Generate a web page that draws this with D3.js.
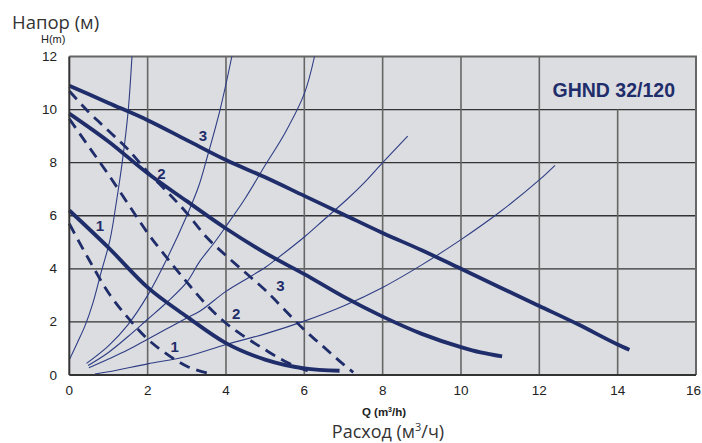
<!DOCTYPE html>
<html><head><meta charset="utf-8">
<script src="https://cdn.jsdelivr.net/npm/d3@7"></script>
<style>html,body{margin:0;padding:0;background:#fff;}svg{display:block;}</style>
</head><body>
<svg id="chart" width="702" height="443"></svg>
<script>
// ---- data ----
const xTicks = [0, 2, 4, 6, 8, 10, 12, 14, 16];
const yTicks = [0, 2, 4, 6, 8, 10, 12];

// pump curves (solid: max speed settings 1,2,3)
const solid1 = [[0,6.2],[1,4.8],[2,3.3],[3,2.2],[4,1.2],[5,0.58],[6,0.25],[6.9,0.16]];
const solid2 = [[0,9.85],[1,8.8],[2,7.6],[3,6.55],[4,5.52],[5,4.6],[6,3.8],[7,2.95],[8,2.2],[9,1.55],[10,1.05],[10.5,0.85],[11.05,0.7]];
const solid3 = [[0,10.9],[1,10.25],[2,9.6],[3,8.85],[4,8.1],[5,7.45],[6,6.75],[7,6.05],[8,5.35],[9,4.7],[10,4.0],[11,3.3],[12,2.6],[13,1.9],[14,1.15],[14.3,0.95]];

// dashed curves
const dashed1 = [[0,5.7],[0.5,4.35],[1,3.1],[1.5,2.15],[2,1.35],[2.5,0.78],[3,0.33],[3.6,0.05]];
const dashed2 = [[0,9.65],[0.5,8.6],[1,7.55],[1.5,6.45],[2,5.35],[2.5,4.4],[3,3.5],[3.5,2.65],[4,1.95],[4.5,1.42],[5,0.95],[5.5,0.52],[6,0.2],[6.25,0.08]];
const dashed3 = [[0,10.7],[0.5,9.9],[1,9.2],[1.5,8.5],[2,7.65],[2.5,6.9],[3,6.1],[3.5,5.2],[4,4.5],[4.5,3.85],[5,3.2],[5.5,2.45],[6,1.7],[6.5,1.05],[7,0.4],[7.25,0.1]];

// thin system curves
const sysA = [[0,0.57],[0.2,1.2],[0.4,1.85],[0.6,2.7],[0.8,3.8],[1.04,5.1],[1.2,6.5],[1.35,8.0],[1.5,9.9],[1.6,12]];
const sysB = [[0.44,0.44],[1,1.1],[1.5,1.9],[2,3.0],[2.5,4.4],[3,6.0],[3.3,7.1],[3.5,8.1],[3.85,10],[4.15,12]];
const sysC = [[0.48,0.36],[1,0.85],[1.5,1.45],[2,2.1],[2.5,2.75],[3,3.5],[3.33,4.28],[3.71,5.0],[4,5.6],[4.48,6.63],[5,7.9],[5.5,9.1],[6,10.6],[6.26,12]];
const sysD = [[0.5,0.27],[1,0.6],[1.5,0.95],[2,1.35],[2.5,1.75],[3,2.15],[3.33,2.4],[4,3.15],[4.5,3.6],[5,4.05],[5.28,4.36],[6,5.2],[6.5,5.85],[7.1,6.63],[7.5,7.2],[8,8.0],[8.64,9.0]];
const sysE = [[0.65,0.04],[1,0.12],[2,0.42],[3,0.7],[4,1.15],[5,1.55],[6,2.03],[7,2.6],[8,3.3],[9,4.15],[10,5.1],[11,6.15],[12,7.35],[12.4,7.9]];

const solidLabels = [["1",0.78,5.65],["2",2.35,7.6],["3",3.41,9.04]];
const dashedLabels = [["1",2.69,1.07],["2",4.26,2.32],["3",5.39,3.39]];

const modelName = "GHND 32/120";
const yTitleRu = "Напор (м)";
const yTitleEn = "H(m)";

// ---- chart ----
const svg = d3.select("#chart");
const x = d3.scaleLinear().domain([0,16]).range([69.3,696]);
const y = d3.scaleLinear().domain([0,12]).range([375,56.5]);
const navy = "#1f2d6b";

svg.append("rect").attr("x",x(0)).attr("y",y(12)).attr("width",x(16)-x(0)).attr("height",y(0)-y(12)).attr("fill","#dcdde0");

// horizontal grid
svg.append("g").selectAll("line").data(yTicks.filter(d=>d>0&&d<12)).join("line")
  .attr("x1",x(0)).attr("x2",x(16)).attr("y1",d=>y(d)).attr("y2",d=>y(d))
  .attr("stroke","#333").attr("stroke-width",1.3);
// vertical grid (x=14 stops at H=10 because of the model label)
svg.append("g").selectAll("line").data(xTicks.filter(d=>d>0&&d<16)).join("line")
  .attr("x1",d=>x(d)).attr("x2",d=>x(d)).attr("y1",y(0)).attr("y2",d=>d===14?y(10):y(12))
  .attr("stroke","#666").attr("stroke-width",1.6);

// border top/right
svg.append("path").attr("d",`M${x(0)},${y(12)}H${x(16)}V${y(0)}`).attr("fill","none").attr("stroke","#666").attr("stroke-width",2);

const line = d3.line().x(d=>x(d[0])).y(d=>y(d[1])).curve(d3.curveMonotoneX);
const lineSys = d3.line().x(d=>x(d[0])).y(d=>y(d[1])).curve(d3.curveCatmullRom);

const plot = svg.append("g");
[sysA,sysB,sysC,sysD,sysE].forEach(s=>{
  plot.append("path").attr("d",lineSys(s)).attr("fill","none").attr("stroke","#2e3d85").attr("stroke-width",1.1);
});
[dashed1,dashed2,dashed3].forEach(s=>{
  plot.append("path").attr("d",line(s)).attr("fill","none").attr("stroke",navy).attr("stroke-width",2.8).attr("stroke-dasharray","11,7");
});
[solid1,solid2,solid3].forEach(s=>{
  plot.append("path").attr("d",line(s)).attr("fill","none").attr("stroke",navy).attr("stroke-width",3.8).attr("stroke-linecap","butt");
});

svg.append("g").selectAll("text").data(solidLabels.concat(dashedLabels)).join("text")
  .attr("x",d=>x(d[1])).attr("y",d=>y(d[2])).attr("text-anchor","middle").attr("dominant-baseline","central")
  .attr("font-family","Liberation Sans, Arial, sans-serif").attr("font-weight","bold").attr("font-size",15)
  .attr("fill",navy).text(d=>d[0]);

svg.append("text").attr("x",x(13.9)).attr("y",y(10.75)).attr("text-anchor","middle").attr("dominant-baseline","central")
  .attr("font-family","Liberation Sans, Arial, sans-serif").attr("font-weight","bold").attr("font-size",19.5)
  .attr("fill",navy).text(modelName);

// axes lines
svg.append("line").attr("x1",x(0)).attr("x2",x(0)).attr("y1",y(12)).attr("y2",y(0)).attr("stroke","#333").attr("stroke-width",2);
svg.append("line").attr("x1",x(0)).attr("x2",x(16)).attr("y1",y(0)).attr("y2",y(0)).attr("stroke","#333").attr("stroke-width",2.2);

// tick labels
svg.append("g").selectAll("text").data(yTicks).join("text")
  .attr("x",57).attr("y",d=>y(d)).attr("text-anchor","end").attr("dominant-baseline","central")
  .attr("font-family","Liberation Sans, Arial, sans-serif").attr("font-size",13.5).attr("fill","#222").text(d=>d);
svg.append("g").selectAll("text").data(xTicks).join("text")
  .attr("x",d=>d===16?701:x(d)).attr("y",395).attr("text-anchor",d=>d===16?"end":"middle")
  .attr("font-family","Liberation Sans, Arial, sans-serif").attr("font-size",13.5).attr("fill","#222").text(d=>d);

// titles
svg.append("text").attr("x",12).attr("y",28.5).attr("font-family","Open Sans, sans-serif").attr("font-size",18.5).attr("fill","#333").text(yTitleRu);
svg.append("text").attr("x",41).attr("y",43).attr("font-family","Liberation Sans, Arial, sans-serif").attr("font-size",11).attr("fill","#222").text(yTitleEn);

const q = svg.append("text").attr("x",384).attr("y",415.5).attr("text-anchor","middle")
  .attr("font-family","Liberation Sans, Arial, sans-serif").attr("font-weight","bold").attr("font-size",11.5).attr("fill","#222");
q.append("tspan").text("Q (m");
q.append("tspan").attr("font-size",7).attr("dy",-4).text("3");
q.append("tspan").attr("dy",4).text("/h)");

const r = svg.append("text").attr("x",388).attr("y",438).attr("text-anchor","middle")
  .attr("font-family","Open Sans, sans-serif").attr("font-size",18).attr("fill","#333");
r.append("tspan").text("Расход (м");
r.append("tspan").attr("font-size",11).attr("dy",-7).text("3");
r.append("tspan").attr("dy",7).text("/ч)");
</script>
</body></html>
